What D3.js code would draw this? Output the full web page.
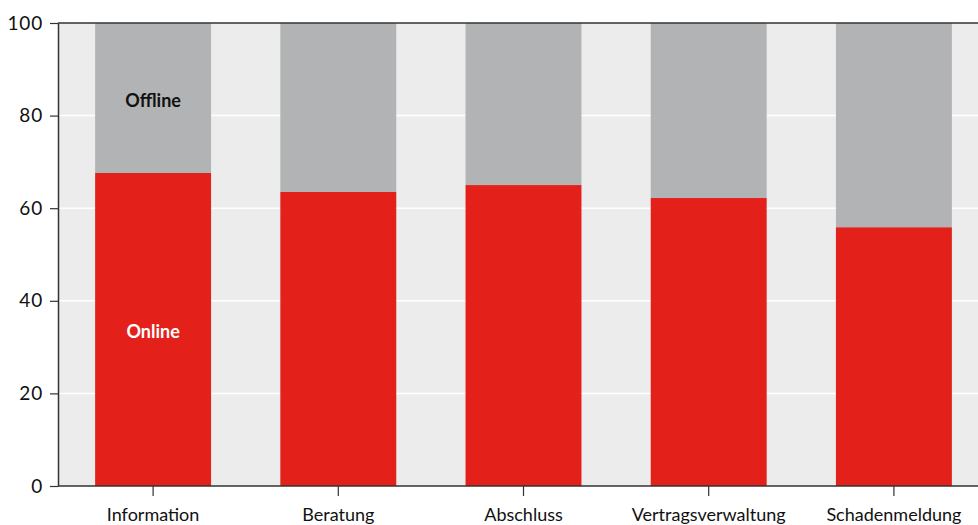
<!DOCTYPE html>
<html>
<head>
<meta charset="utf-8">
<script src="https://cdn.jsdelivr.net/npm/d3@7"></script>
<style>
  html, body { margin: 0; padding: 0; background: #ffffff; }
  svg { display: block; }
  text { font-family: "Lato", "Open Sans", sans-serif; }
</style>
</head>
<body>
<svg id="chart" width="978" height="525"></svg>
<script>
// Anteil online / offline je Prozessschritt (in %)
const categories = ["Information", "Beratung", "Abschluss", "Vertragsverwaltung", "Schadenmeldung"];
const online = [67.6, 63.5, 65.0, 62.2, 55.9];
const offline = online.map(v => 100 - v);
const yTicks = [0, 20, 40, 60, 80, 100];
const seriesNames = ["Online", "Offline"];

const plot = { left: 58, right: 978, top: 23, bottom: 486 };

const svg = d3.select("#chart");

const x = d3.scaleBand()
  .domain(categories)
  .range([60.5, 986.5])
  .paddingInner(0.374)
  .paddingOuter(0.187);

const y = d3.scaleLinear().domain([0, 100]).range([plot.bottom, plot.top]);

// plot background
svg.append("rect")
  .attr("x", plot.left).attr("y", plot.top)
  .attr("width", plot.right - plot.left).attr("height", plot.bottom - plot.top)
  .attr("fill", "#ebeceb");

// horizontal gridlines
svg.append("g").selectAll("line")
  .data(yTicks.filter(t => t > 0 && t < 100))
  .join("line")
  .attr("x1", plot.left).attr("x2", plot.right)
  .attr("y1", d => y(d)).attr("y2", d => y(d))
  .attr("stroke", "#ffffff").attr("stroke-width", 1.5);

// stacked bars
const rows = categories.map((c, i) => ({ cat: c, Online: online[i], Offline: offline[i] }));
const stack = d3.stack().keys(seriesNames)(rows);
const colors = { Online: "#e3211a", Offline: "#b2b3b4" };

svg.append("g").selectAll("g")
  .data(stack)
  .join("g")
  .attr("fill", d => colors[d.key])
  .selectAll("rect")
  .data(d => d)
  .join("rect")
  .attr("x", d => x(d.data.cat))
  .attr("width", x.bandwidth())
  .attr("y", d => y(d[1]))
  .attr("height", d => y(d[0]) - y(d[1]));

// series labels inside the first bar
const first = categories[0];
svg.append("text")
  .attr("x", x(first) + x.bandwidth() / 2)
  .attr("y", y(83.2) + 6.5)
  .attr("text-anchor", "middle")
  .attr("font-size", 18).attr("font-weight", 700)
  .attr("fill", "#111111")
  .text("Offline");
svg.append("text")
  .attr("x", x(first) + x.bandwidth() / 2)
  .attr("y", y(33.3) + 6.5)
  .attr("text-anchor", "middle")
  .attr("font-size", 18).attr("font-weight", 700)
  .attr("fill", "#ffffff")
  .text("Online");

// top frame line
svg.append("line")
  .attr("x1", plot.left).attr("x2", plot.right)
  .attr("y1", plot.top).attr("y2", plot.top)
  .attr("stroke", "#333333").attr("stroke-width", 1.5);

// y axis
const yAxis = svg.append("g")
  .attr("transform", `translate(${plot.left},0)`)
  .call(d3.axisLeft(y).tickValues(yTicks).tickSize(8).tickPadding(7).tickSizeOuter(0));
yAxis.select(".domain").attr("stroke", "#333333").attr("stroke-width", 1.5);
yAxis.selectAll(".tick line").attr("stroke", "#333333").attr("stroke-width", 1.2);
yAxis.selectAll(".tick text")
  .attr("font-size", 19).attr("fill", "#111111")
  .attr("letter-spacing", "0.8")
  .style("font-family", "Lato, 'Open Sans', sans-serif");

// x axis
const xAxis = svg.append("g")
  .attr("transform", `translate(0,${plot.bottom})`)
  .call(d3.axisBottom(x).tickSize(10).tickPadding(12).tickSizeOuter(0));
xAxis.select(".domain").remove();
xAxis.append("line")
  .attr("x1", plot.left).attr("x2", plot.right)
  .attr("stroke", "#333333").attr("stroke-width", 1.5);
xAxis.selectAll(".tick line").attr("stroke", "#333333").attr("stroke-width", 1.2);
xAxis.selectAll(".tick text")
  .attr("font-size", 18).attr("fill", "#111111")
  .style("font-family", "Lato, 'Open Sans', sans-serif");
</script>
</body>
</html>
